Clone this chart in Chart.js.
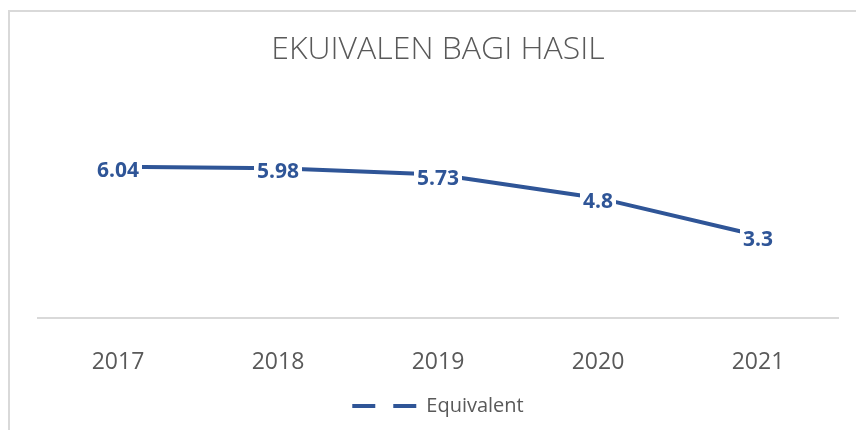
<!DOCTYPE html>
<html>
<head>
<meta charset="utf-8">
<script src="https://cdn.jsdelivr.net/npm/chart.js@4"></script>
<style>
  html, body { margin: 0; padding: 0; background: #fff; overflow: hidden; }
  #wrap { width: 856px; height: 430px; position: relative; }
</style>
</head>
<body>
<div id="wrap"><canvas id="myChart" width="856" height="430"></canvas></div>
<script>
var years = ['2017', '2018', '2019', '2020', '2021'];
var equivalent = [6.04, 5.98, 5.73, 4.8, 3.3];
var seriesName = 'Equivalent';
var chartTitle = 'EKUIVALEN BAGI HASIL';

var blue = '#2F5597';
var grey = '#595959';

// frame around the chart (only the top and left edges are in view)
var framePlugin = {
    id: 'frame',
    beforeDraw: function(chart) {
        var ctx = chart.ctx;
        ctx.save();
        ctx.fillStyle = '#fff';
        ctx.fillRect(0, 0, chart.width, chart.height);
        ctx.strokeStyle = '#d9d9d9';
        ctx.lineWidth = 2;
        ctx.strokeRect(9, 11, 1000, 1000);
        ctx.restore();
    }
};

// value labels sitting on the points, with a white box behind
var valueLabels = {
    id: 'valueLabels',
    afterDatasetsDraw: function(chart) {
        var ctx = chart.ctx;
        var meta = chart.getDatasetMeta(0);
        ctx.save();
        ctx.font = 'bold 21px "Open Sans"';
        ctx.textAlign = 'center';
        ctx.textBaseline = 'middle';
        meta.data.forEach(function(pt, i) {
            var txt = String(equivalent[i]);
            var w = ctx.measureText(txt).width;
            var y = pt.y + 4;
            ctx.fillStyle = '#fff';
            ctx.fillRect(pt.x - w / 2 - 3, y - 12, w + 6, 24);
            ctx.fillStyle = blue;
            ctx.fillText(txt, pt.x, y);
        });
        ctx.restore();
    }
};

var ctx = document.getElementById('myChart').getContext('2d');
var myChart = new Chart(ctx, {
    type: 'line',
    data: {
        labels: years,
        datasets: [{
            label: seriesName,
            data: equivalent,
            borderColor: blue,
            backgroundColor: blue,
            borderWidth: 4,
            pointRadius: 0,
            tension: 0
        }]
    },
    options: {
        responsive: false,
        animation: false,
        layout: {
            padding: { left: 38, right: 18, top: 0, bottom: 4 }
        },
        scales: {
            x: {
                offset: true,
                grid: { display: false, drawTicks: false },
                border: { display: true, color: '#d9d9d9', width: 2 },
                ticks: {
                    color: grey,
                    padding: 30,
                    font: { family: 'Open Sans', size: 23 }
                },
                afterFit: function(scale) {
                    scale.height -= 20;
                }
            },
            y: {
                display: false,
                min: 0,
                max: 7
            }
        },
        plugins: {
            title: {
                display: true,
                text: chartTitle,
                color: grey,
                font: { family: 'Open Sans', size: 32, weight: '300' },
                padding: { top: 31, bottom: 73.3 }
            },
            legend: {
                position: 'bottom',
                labels: {
                    color: grey,
                    font: { family: 'Open Sans', size: 20 },
                    usePointStyle: true,
                    pointStyle: 'line',
                    pointStyleWidth: 64,
                    padding: 10,
                    generateLabels: function(chart) {
                        return Chart.defaults.plugins.legend.labels.generateLabels(chart).map(function(item) {
                            item.lineDash = [23, 18];
                            item.lineWidth = 4;
                            item.strokeStyle = blue;
                            return item;
                        });
                    }
                }
            },
            tooltip: { enabled: false }
        }
    },
    plugins: [framePlugin, valueLabels]
});
</script>
</body>
</html>
